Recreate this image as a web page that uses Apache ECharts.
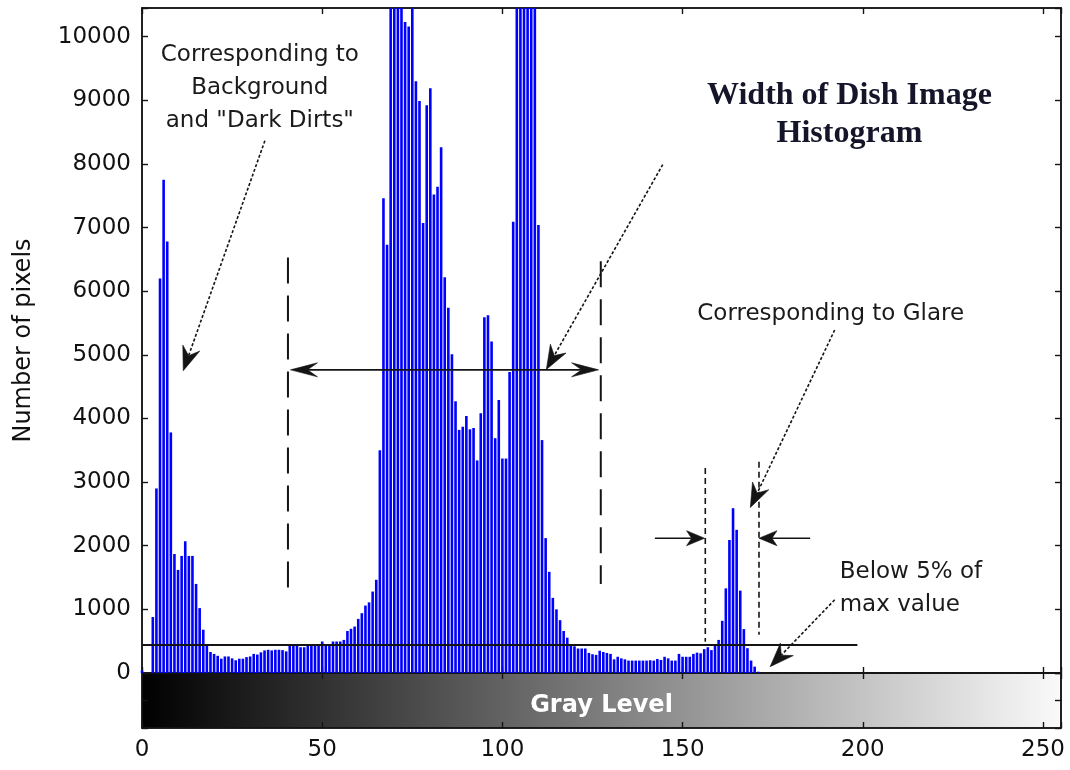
<!DOCTYPE html>
<html>
<head>
<meta charset="utf-8">
<script src="https://cdn.jsdelivr.net/npm/echarts/dist/echarts.min.js"></script>
<style>
  html, body { margin: 0; padding: 0; background: #ffffff; }
  #chart { width: 1070px; height: 770px; }
</style>
</head>
<body>
<div id="chart"></div>
<script>
// Pixel count for each gray level 0..255
const pixelCounts = [
  40, 0, 0, 880, 2900, 6200, 7750, 6780, 3780, 1870, 1620, 1840, 2070, 1840, 1840, 1400,
  1020, 680, 440, 330, 300, 270, 225, 260, 260, 230, 200, 225, 225, 250, 260, 300,
  290, 325, 355, 365, 355, 365, 365, 360, 340, 430, 425, 425, 405, 405, 425, 425,
  440, 430, 495, 430, 425, 495, 495, 495, 520, 660, 695, 730, 850, 940, 1060, 1110,
  1280, 1465, 3500, 7460, 6730, 12800, 14600, 13900, 11700, 10230, 10160, 10900, 9300, 8990, 7070, 8920,
  9190, 7520, 7640, 8260, 6220, 5740, 5010, 4270, 3820, 3870, 4040, 3830, 3850, 3340, 4080, 5590,
  5620, 5210, 3690, 4290, 3370, 3370, 4730, 7090, 11900, 13400, 15800, 16500, 14100, 12300, 7040, 3660,
  2120, 1590, 1180, 1000, 830, 660, 555, 450, 420, 385, 385, 385, 315, 295, 285, 350,
  330, 315, 300, 215, 255, 230, 215, 195, 195, 195, 195, 195, 195, 200, 195, 220,
  205, 255, 230, 195, 195, 300, 255, 255, 255, 300, 320, 310, 375, 405, 360, 450,
  520, 820, 1330, 2090, 2590, 2250, 1295, 690, 390, 195, 100, 20, 0, 0, 0, 0,
  0, 0, 0, 0, 0, 0, 0, 0, 0, 0, 0, 0, 0, 0, 0, 0,
  0, 0, 0, 0, 0, 0, 0, 0, 0, 0, 0, 0, 0, 0, 0, 0,
  0, 0, 0, 0, 0, 0, 0, 0, 0, 0, 0, 0, 0, 0, 0, 0,
  0, 0, 0, 0, 0, 0, 0, 0, 0, 0, 0, 0, 0, 0, 0, 0,
  0, 0, 0, 0, 0, 0, 0, 0, 0, 0, 0, 0, 0, 0, 0, 0
];

// Axis ranges and tick steps
const grayRange = [0, 255];
const grayTickStep = 50;
const countRange = [0, 10450];
const countTickStep = 1000;

// 5% of max threshold line: [level, last gray level]
const thresholdLine = [440, 198.5];

// Vertical boundary markers (gray level, from count, to count, dash style)
const boundaryMarkers = [
  { x: 40.5,  y0: 1250, y1: 6530, dash: [26, 12], width: 2 },
  { x: 127.3, y0: 1400, y1: 6470, dash: [26, 12], width: 2 },
  { x: 156.3, y0: 490,  y1: 3220, dash: [6, 4],  width: 1.6 },
  { x: 171.2, y0: 600,  y1: 3320, dash: [6, 4],  width: 1.6 }
];

// Arrows in data space: start point, tip point
const pointerArrows = [
  { from: [34.1, 8365],  to: [11.45, 4750], dash: [3, 2] },
  { from: [144.5, 7990], to: [112.2, 4770], dash: [3, 2] },
  { from: [192.2, 5390], to: [168.8, 2600], dash: [3, 2] },
  { from: [192.2, 1150], to: [174.3, 100],  dash: [3, 2] },
  { from: [142.3, 2118], to: [156.1, 2118], dash: null },
  { from: [185.4, 2118], to: [171.2, 2118], dash: null }
];
// Dish width span, arrow heads on both ends
const widthSpan = { x0: 41.2, x1: 126.7, y: 4764 };

// Text annotations (anchor in data space)
const notes = [
  { text: 'Corresponding to\nBackground\nand "Dark Dirts"', at: [32.7, 9198], align: 'center', size: 23, lh: 33, family: 'DejaVu Sans', weight: 'normal' },
  { text: 'Width of Dish Image\nHistogram', at: [196.3, 8774], align: 'center', size: 32, lh: 38, family: 'Liberation Serif', weight: 'bold' },
  { text: 'Corresponding to Glare', at: [191.1, 5645], align: 'center', size: 23, lh: 30, family: 'DejaVu Sans', weight: 'normal' },
  { text: 'Below 5% of\nmax value', at: [193.6, 1329], align: 'left', size: 23, lh: 33, family: 'DejaVu Sans', weight: 'normal' }
];
const barTitle = 'Gray Level';

const FONT = 'DejaVu Sans';
const INK = '#141414';

const chart = echarts.init(document.getElementById('chart'), null, { renderer: 'canvas' });

function tickAxis(extra) {
  return Object.assign({
    type: 'value',
    axisLine: { show: true, onZero: false, lineStyle: { color: INK, width: 1.5 } },
    axisTick: { show: true, inside: true, length: 6, lineStyle: { color: INK, width: 1.4 } },
    axisLabel: { show: false },
    splitLine: { show: false }
  }, extra);
}

chart.setOption({
  animation: false,
  backgroundColor: '#ffffff',
  grid: [
    { left: 142, top: 8, width: 919, height: 665, show: true, borderColor: INK, borderWidth: 1.5, backgroundColor: 'transparent', containLabel: false, outerBoundsMode: 'none' },
    {
      left: 142, top: 673, width: 919, height: 55, show: true, borderColor: INK, borderWidth: 1.5,
      containLabel: false, outerBoundsMode: 'none',
      backgroundColor: new echarts.graphic.LinearGradient(0, 0, 1, 0, [
        { offset: 0, color: '#000000' },
        { offset: 1, color: '#fafafa' }
      ])
    }
  ],
  xAxis: [
    tickAxis({ gridIndex: 0, position: 'bottom', min: grayRange[0], max: grayRange[1], interval: grayTickStep }),
    tickAxis({ gridIndex: 0, position: 'top', min: grayRange[0], max: grayRange[1], interval: grayTickStep }),
    tickAxis({
      gridIndex: 1, position: 'bottom', min: grayRange[0], max: grayRange[1], interval: grayTickStep,
      axisLabel: {
        show: true, margin: 11, fontFamily: FONT, fontSize: 23, color: '#111',
        formatter: v => (v % grayTickStep === 0 ? String(v) : '')
      }
    }),
    tickAxis({ gridIndex: 1, position: 'top', min: grayRange[0], max: grayRange[1], interval: grayTickStep })
  ],
  yAxis: [
    tickAxis({
      gridIndex: 0, position: 'left', min: countRange[0], max: countRange[1], interval: countTickStep,
      axisLabel: {
        show: true, margin: 11, fontFamily: FONT, fontSize: 23, color: '#111',
        formatter: v => (v % countTickStep === 0 ? String(v) : '')
      },
      name: 'Number of pixels', nameLocation: 'middle', nameGap: 106, nameRotate: 90,
      nameTextStyle: { color: '#111', fontFamily: FONT, fontSize: 24 }
    }),
    tickAxis({ gridIndex: 0, position: 'right', min: countRange[0], max: countRange[1], interval: countTickStep }),
    tickAxis({ gridIndex: 1, position: 'left', min: 0, max: 1, interval: 0.5 }),
    tickAxis({ gridIndex: 1, position: 'right', min: 0, max: 1, interval: 0.5 })
  ],
  series: [{
    type: 'bar',
    xAxisIndex: 0,
    yAxisIndex: 0,
    barWidth: 2.6,
    clip: true,
    itemStyle: { color: '#0000ff' },
    data: pixelCounts.map((c, i) => [i, c])
  }]
});

// Annotation overlay drawn from data-space anchors
const toPx = p => chart.convertToPixel({ seriesIndex: 0 }, p);

function arrowHead(tip, from, len, half, notch) {
  const dx = tip[0] - from[0], dy = tip[1] - from[1];
  const d = Math.hypot(dx, dy) || 1;
  const ux = dx / d, uy = dy / d;
  const nx = -uy, ny = ux;
  const bx = tip[0] - ux * len, by = tip[1] - uy * len;
  return {
    points: [
      tip,
      [bx + nx * half, by + ny * half],
      [tip[0] - ux * (len - notch), tip[1] - uy * (len - notch)],
      [bx - nx * half, by - ny * half]
    ],
    neck: [tip[0] - ux * (len - notch), tip[1] - uy * (len - notch)]
  };
}

const overlay = [];

// threshold line
{
  const a = toPx([0, thresholdLine[0]]);
  const b = toPx([thresholdLine[1], thresholdLine[0]]);
  overlay.push({ type: 'line', shape: { x1: a[0], y1: a[1], x2: b[0], y2: b[1] }, style: { stroke: INK, lineWidth: 1.8 }, z: 10 });
}

boundaryMarkers.forEach(m => {
  const a = toPx([m.x, m.y0]);
  const b = toPx([m.x, m.y1]);
  overlay.push({ type: 'line', shape: { x1: b[0], y1: b[1], x2: a[0], y2: a[1] }, style: { stroke: INK, lineWidth: m.width, lineDash: m.dash }, z: 10 });
});

pointerArrows.forEach(ar => {
  const s = toPx(ar.from);
  const t = toPx(ar.to);
  const horizontal = ar.dash === null;
  const head = horizontal ? arrowHead(t, s, 18, 7.5, 5) : arrowHead(t, s, 24, 9, 8);
  overlay.push({ type: 'line', shape: { x1: s[0], y1: s[1], x2: head.neck[0], y2: head.neck[1] }, style: { stroke: INK, lineWidth: horizontal ? 1.6 : 1.6, lineDash: ar.dash || null }, z: 11 });
  overlay.push({ type: 'polygon', shape: { points: head.points }, style: { fill: INK, stroke: INK, lineWidth: 0.6 }, z: 11 });
});

{
  const a = toPx([widthSpan.x0, widthSpan.y]);
  const b = toPx([widthSpan.x1, widthSpan.y]);
  const hb = arrowHead(b, a, 27, 7, 10);
  const ha = arrowHead(a, b, 27, 7, 10);
  overlay.push({ type: 'line', shape: { x1: ha.neck[0], y1: ha.neck[1], x2: hb.neck[0], y2: hb.neck[1] }, style: { stroke: INK, lineWidth: 1.8 }, z: 11 });
  overlay.push({ type: 'polygon', shape: { points: ha.points }, style: { fill: INK, stroke: INK, lineWidth: 0.6 }, z: 11 });
  overlay.push({ type: 'polygon', shape: { points: hb.points }, style: { fill: INK, stroke: INK, lineWidth: 0.6 }, z: 11 });
}

notes.forEach(n => {
  const p = toPx(n.at);
  overlay.push({
    type: 'text', x: p[0], y: p[1], z: 12,
    style: {
      text: n.text, fill: n.family === 'Liberation Serif' ? '#15152a' : '#1a1a1a',
      font: `${n.weight} ${n.size}px "${n.family}"`,
      textAlign: n.align, textVerticalAlign: 'middle', lineHeight: n.lh
    }
  });
});

// caption centred in the gray level strip
{
  const c = chart.convertToPixel({ xAxisIndex: 2, yAxisIndex: 2 }, [(grayRange[0] + grayRange[1]) / 2, 0.4]);
  overlay.push({
    type: 'text', x: c[0], y: c[1], z: 12,
    style: { text: barTitle, fill: '#ffffff', font: `bold 24px "${FONT}"`, textAlign: 'center', textVerticalAlign: 'middle' }
  });
}

chart.setOption({ graphic: overlay });
</script>
</body>
</html>
